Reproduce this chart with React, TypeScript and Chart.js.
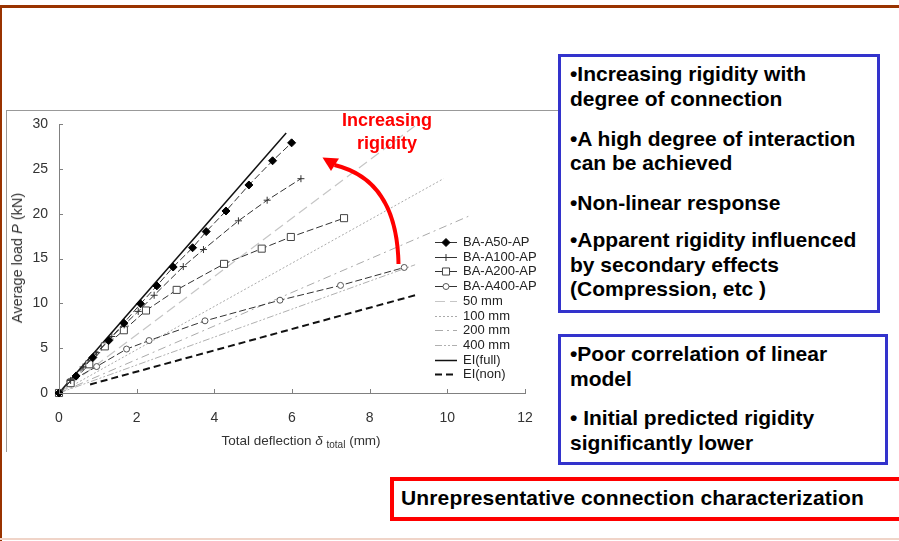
import React, { useEffect, useRef } from "react";
import { Chart, registerables } from "chart.js";

Chart.register(...registerables);

// ---- axis ticks ----
const xTickValues = [0, 2, 4, 6, 8, 10, 12];
const yTickValues = [0, 5, 10, 15, 20, 25, 30];

// ---- test series (deflection mm, load kN) ----
const a50Deflection = [0, 0.44, 0.87, 1.28, 1.67, 2.1, 2.52, 2.94, 3.44, 3.79, 4.3, 4.89, 5.5, 5.99];
const a50Load = [0, 1.9, 3.95, 5.85, 7.8, 9.95, 11.95, 14.05, 16.2, 18.0, 20.3, 23.2, 25.9, 27.9];

const a100Deflection = [0, 0.3, 0.62, 0.97, 1.36, 1.68, 2.04, 2.45, 3.2, 3.72, 4.62, 5.36, 6.23];
const a100Load = [0, 1.4, 2.9, 4.5, 6.3, 7.6, 9.1, 10.9, 14.1, 16.0, 19.2, 21.5, 23.9];

const a200Deflection = [0, 0.3, 0.78, 1.18, 1.67, 2.24, 3.03, 4.25, 5.22, 5.97, 7.34];
const a200Load = [0, 1.1, 3.2, 5.2, 7.0, 9.2, 11.5, 14.4, 16.1, 17.4, 19.5];

const a400Deflection = [0, 0.28, 0.97, 1.74, 2.32, 3.76, 5.69, 7.25, 8.89];
const a400Load = [0, 1.3, 2.95, 4.9, 5.85, 8.05, 10.35, 12.0, 14.0];

// ---- model lines ----
const mm50Deflection = [0, 9.2];
const mm50Load = [0, 29.9];
const mm100Deflection = [0, 9.9];
const mm100Load = [0, 23.9];
const mm200Deflection = [0, 10.54];
const mm200Load = [0, 19.7];
const mm400Deflection = [0, 9.17];
const mm400Load = [0, 14.3];
const eiFullDeflection = [0, 5.85];
const eiFullLoad = [0, 29.0];
const eiNonDeflection = [0.8, 9.17];
const eiNonLoad = [0.95, 10.9];

const seriesLabels = [
  "BA-A50-AP",
  "BA-A100-AP",
  "BA-A200-AP",
  "BA-A400-AP",
  "50 mm",
  "100 mm",
  "200 mm",
  "400 mm",
  "EI(full)",
  "EI(non)",
];

const pts = (xs: number[], ys: number[]) => xs.map((x, i) => ({ x, y: ys[i] }));

const FONT = "'Liberation Sans', Arial, sans-serif";

function drawMarker(
  ctx: CanvasRenderingContext2D,
  style: string,
  x: number,
  y: number,
  r: number,
  fill: string,
  stroke: string,
  lw: number
) {
  ctx.save();
  ctx.setLineDash([]);
  ctx.lineWidth = lw;
  ctx.fillStyle = fill;
  ctx.strokeStyle = stroke;
  ctx.beginPath();
  if (style === "rectRot") {
    ctx.moveTo(x, y - r);
    ctx.lineTo(x + r, y);
    ctx.lineTo(x, y + r);
    ctx.lineTo(x - r, y);
    ctx.closePath();
    ctx.fill();
    ctx.stroke();
  } else if (style === "cross") {
    ctx.moveTo(x - r, y);
    ctx.lineTo(x + r, y);
    ctx.moveTo(x, y - r);
    ctx.lineTo(x, y + r);
    ctx.stroke();
  } else if (style === "rect") {
    const s = r * Math.SQRT1_2;
    ctx.rect(x - s, y - s, 2 * s, 2 * s);
    ctx.fill();
    ctx.stroke();
  } else if (style === "circle") {
    ctx.arc(x, y, r, 0, Math.PI * 2);
    ctx.fill();
    ctx.stroke();
  }
  ctx.restore();
}

const legendPlugin = {
  id: "customLegend",
  afterDraw(chart: any) {
    const ctx: CanvasRenderingContext2D = chart.ctx;
    const lineX0 = 435;
    const lineX1 = 457;
    const textX = 463;
    const top = 142;
    const step = 14.7;
    chart.data.datasets.forEach((ds: any, i: number) => {
      const y = Math.round(top + i * step) + 0.5;
      ctx.save();
      ctx.strokeStyle = ds.borderColor;
      ctx.lineWidth = ds.borderWidth;
      ctx.setLineDash(ds.legendDash || []);
      ctx.beginPath();
      ctx.moveTo(lineX0, y);
      ctx.lineTo(lineX1, y);
      ctx.stroke();
      ctx.restore();
      if (ds.pointRadius > 0) {
        drawMarker(
          ctx,
          ds.pointStyle,
          (lineX0 + lineX1) / 2,
          y,
          ds.pointRadius,
          ds.pointBackgroundColor,
          ds.pointBorderColor,
          ds.pointBorderWidth || 1
        );
      }
      ctx.save();
      ctx.fillStyle = "#222";
      ctx.font = `13px ${FONT}`;
      ctx.textBaseline = "middle";
      ctx.textAlign = "left";
      ctx.fillText(ds.label, textX, y);
      ctx.restore();
    });
  },
};

const inwardTicksPlugin = {
  id: "inwardTicks",
  afterDraw(chart: any) {
    const ctx: CanvasRenderingContext2D = chart.ctx;
    const { chartArea } = chart;
    const xs = chart.scales.x;
    const ys = chart.scales.y;
    ctx.save();
    ctx.strokeStyle = "#808080";
    ctx.lineWidth = 1;
    xs.ticks.forEach((t: any) => {
      const px = Math.round(xs.getPixelForValue(t.value)) + 0.5;
      ctx.beginPath();
      ctx.moveTo(px, chartArea.bottom);
      ctx.lineTo(px, chartArea.bottom - 4);
      ctx.stroke();
    });
    ys.ticks.forEach((t: any) => {
      const py = Math.round(ys.getPixelForValue(t.value)) + 0.5;
      ctx.beginPath();
      ctx.moveTo(chartArea.left, py);
      ctx.lineTo(chartArea.left + 4, py);
      ctx.stroke();
    });
    ctx.restore();
  },
};

function ChartCanvas() {
  const ref = useRef<HTMLCanvasElement | null>(null);
  useEffect(() => {
    if (!ref.current) return;
    const seriesLine = {
      borderColor: "#333",
      borderWidth: 1,
      borderDash: [7, 3],
      legendDash: [],
      tension: 0,
      fill: false,
      clip: false as any,
    };
    const refLine = (color: string, dash: number[], width = 1) => ({
      borderColor: color,
      borderWidth: width,
      borderDash: dash,
      legendDash: dash,
      pointRadius: 0,
      pointHoverRadius: 0,
      tension: 0,
      fill: false,
    });
    const chart = new Chart(ref.current, {
      type: "line",
      data: {
        datasets: [
          {
            ...seriesLine,
            label: seriesLabels[0],
            data: pts(a50Deflection, a50Load),
            pointStyle: "rectRot",
            pointRadius: 4,
            pointBackgroundColor: "#000",
            pointBorderColor: "#000",
            pointBorderWidth: 1,
          },
          {
            ...seriesLine,
            label: seriesLabels[1],
            data: pts(a100Deflection, a100Load),
            pointStyle: "cross",
            pointRadius: 3.5,
            pointBackgroundColor: "#333",
            pointBorderColor: "#333",
            pointBorderWidth: 1,
          },
          {
            ...seriesLine,
            label: seriesLabels[2],
            data: pts(a200Deflection, a200Load),
            pointStyle: "rect",
            pointRadius: 5,
            pointBackgroundColor: "#fff",
            pointBorderColor: "#444",
            pointBorderWidth: 1,
          },
          {
            ...seriesLine,
            label: seriesLabels[3],
            data: pts(a400Deflection, a400Load),
            pointStyle: "circle",
            pointRadius: 3,
            pointBackgroundColor: "#fff",
            pointBorderColor: "#555",
            pointBorderWidth: 1,
          },
          { ...refLine("#c6c6c6", [10, 5], 1.2), label: seriesLabels[4], data: pts(mm50Deflection, mm50Load) },
          { ...refLine("#aaaaaa", [2, 2]), label: seriesLabels[5], data: pts(mm100Deflection, mm100Load) },
          { ...refLine("#aaaaaa", [8, 4, 2, 4]), label: seriesLabels[6], data: pts(mm200Deflection, mm200Load) },
          { ...refLine("#b0b0b0", [7, 2, 2, 2, 2, 2]), label: seriesLabels[7], data: pts(mm400Deflection, mm400Load) },
          { ...refLine("#111111", [], 1.5), label: seriesLabels[8], data: pts(eiFullDeflection, eiFullLoad) },
          { ...refLine("#111111", [7, 4], 2), label: seriesLabels[9], data: pts(eiNonDeflection, eiNonLoad) },
        ] as any,
      },
      options: {
        responsive: false,
        animation: false,
        devicePixelRatio: 1,
        events: [],
        layout: { padding: { left: 0, top: 24, right: 35, bottom: 0 } },
        plugins: {
          legend: { display: false },
          tooltip: { enabled: false },
        },
        scales: {
          x: {
            type: "linear",
            min: 0,
            max: 12,
            afterFit: (s: any) => {
              s.height = 67;
            },
            afterBuildTicks: (s: any) => {
              s.ticks = xTickValues.map((v) => ({ value: v }));
            },
            ticks: {
              padding: 17,
              color: "#333",
              font: { family: FONT, size: 14 },
              maxRotation: 0,
            },
            grid: { display: true, drawOnChartArea: false, drawTicks: false },
            border: { display: true, color: "#808080", width: 1 },
          },
          y: {
            type: "linear",
            min: 0,
            max: 30,
            afterFit: (s: any) => {
              s.width = 59;
            },
            afterBuildTicks: (s: any) => {
              s.ticks = yTickValues.map((v) => ({ value: v }));
            },
            ticks: {
              padding: 11,
              color: "#333",
              font: { family: FONT, size: 14 },
            },
            grid: { display: true, drawOnChartArea: false, drawTicks: false },
            border: { display: true, color: "#808080", width: 1 },
          },
        },
      } as any,
      plugins: [legendPlugin, inwardTicksPlugin],
    });
    return () => chart.destroy();
  }, []);
  return (
    <canvas
      ref={ref}
      width={560}
      height={360}
      style={{ position: "absolute", left: 0, top: 100, width: 560, height: 360 }}
    />
  );
}

const boxText: React.CSSProperties = {
  fontFamily: FONT,
  fontWeight: "bold",
  fontSize: 21,
  lineHeight: "24.5px",
  color: "#000",
  whiteSpace: "nowrap",
};

export default function App() {
  return (
    <div
      style={{
        position: "fixed",
        left: 0,
        top: 0,
        width: 899,
        height: 541,
        overflow: "hidden",
        background: "#fff",
        fontFamily: FONT,
      }}
    >
      {/* slide frame */}
      <div style={{ position: "absolute", left: 0, top: 5, width: 899, height: 3, background: "#993300" }} />
      <div style={{ position: "absolute", left: 0, top: 5, width: 2, height: 536, background: "#993300" }} />
      <div style={{ position: "absolute", left: 0, top: 538, width: 899, height: 2, background: "#f0d4c8" }} />

      {/* chart picture frame */}
      <div style={{ position: "absolute", left: 6, top: 110, width: 552, height: 1, background: "#999" }} />
      <div style={{ position: "absolute", left: 6, top: 110, width: 1, height: 342, background: "#999" }} />

      <ChartCanvas />

      {/* axis titles */}
      <div
        style={{
          position: "absolute",
          left: 17,
          top: 258,
          transform: "translate(-50%, -50%) rotate(-90deg)",
          whiteSpace: "nowrap",
          fontSize: 14.5,
          color: "#333",
        }}
      >
        Average load <i>P</i> (kN)
      </div>
      <div
        style={{
          position: "absolute",
          left: 301,
          top: 440,
          transform: "translate(-50%, -50%)",
          whiteSpace: "nowrap",
          fontSize: 13.5,
          color: "#333",
        }}
      >
        Total deflection <i>δ</i>{" "}
        <span style={{ fontSize: 10, position: "relative", top: 3 }}>total</span> (mm)
      </div>

      {/* annotation arrow */}
      <svg
        width={899}
        height={541}
        style={{ position: "absolute", left: 0, top: 0, pointerEvents: "none" }}
      >
        <path d="M 398.5 264 Q 397 180 334.5 165" fill="none" stroke="#ff0000" strokeWidth={4} />
        <polygon points="322.5,157.5 339,158.5 331,171" fill="#ff0000" />
      </svg>
      <div
        style={{
          position: "absolute",
          left: 287,
          top: 108.5,
          width: 200,
          textAlign: "center",
          fontSize: 18,
          lineHeight: "23.3px",
          fontWeight: "bold",
          color: "#ff0000",
          whiteSpace: "nowrap",
        }}
      >
        Increasing
        <br />
        rigidity
      </div>

      {/* text box 1 */}
      <div
        style={{
          position: "absolute",
          left: 558,
          top: 54,
          width: 322,
          height: 259,
          boxSizing: "border-box",
          border: "3px solid #3333cc",
          background: "#fff",
          padding: "5px 0 0 9px",
          ...boxText,
        }}
      >
        <div>•Increasing rigidity with<br />degree of connection</div>
        <div style={{ marginTop: 15.5 }}>•A high degree of interaction<br />can be achieved</div>
        <div style={{ marginTop: 15.5 }}>•Non-linear response</div>
        <div style={{ marginTop: 12.8 }}>•Apparent rigidity influenced<br />by secondary effects<br />(Compression, etc )</div>
      </div>

      {/* text box 2 */}
      <div
        style={{
          position: "absolute",
          left: 558,
          top: 334,
          width: 330,
          height: 131,
          boxSizing: "border-box",
          border: "3px solid #3333cc",
          background: "#fff",
          padding: "5px 0 0 9px",
          ...boxText,
        }}
      >
        <div>•Poor correlation of linear<br />model</div>
        <div style={{ marginTop: 15.2 }}>• Initial predicted rigidity<br />significantly lower</div>
      </div>

      {/* red conclusion box */}
      <div
        style={{
          position: "absolute",
          left: 390,
          top: 477,
          width: 530,
          height: 44,
          boxSizing: "border-box",
          border: "4px solid #ff0000",
          background: "#fff",
          padding: "0 0 0 7px",
          ...boxText,
          lineHeight: "34px",
          letterSpacing: "0.15px",
        }}
      >
        Unrepresentative connection characterization
      </div>
    </div>
  );
}
